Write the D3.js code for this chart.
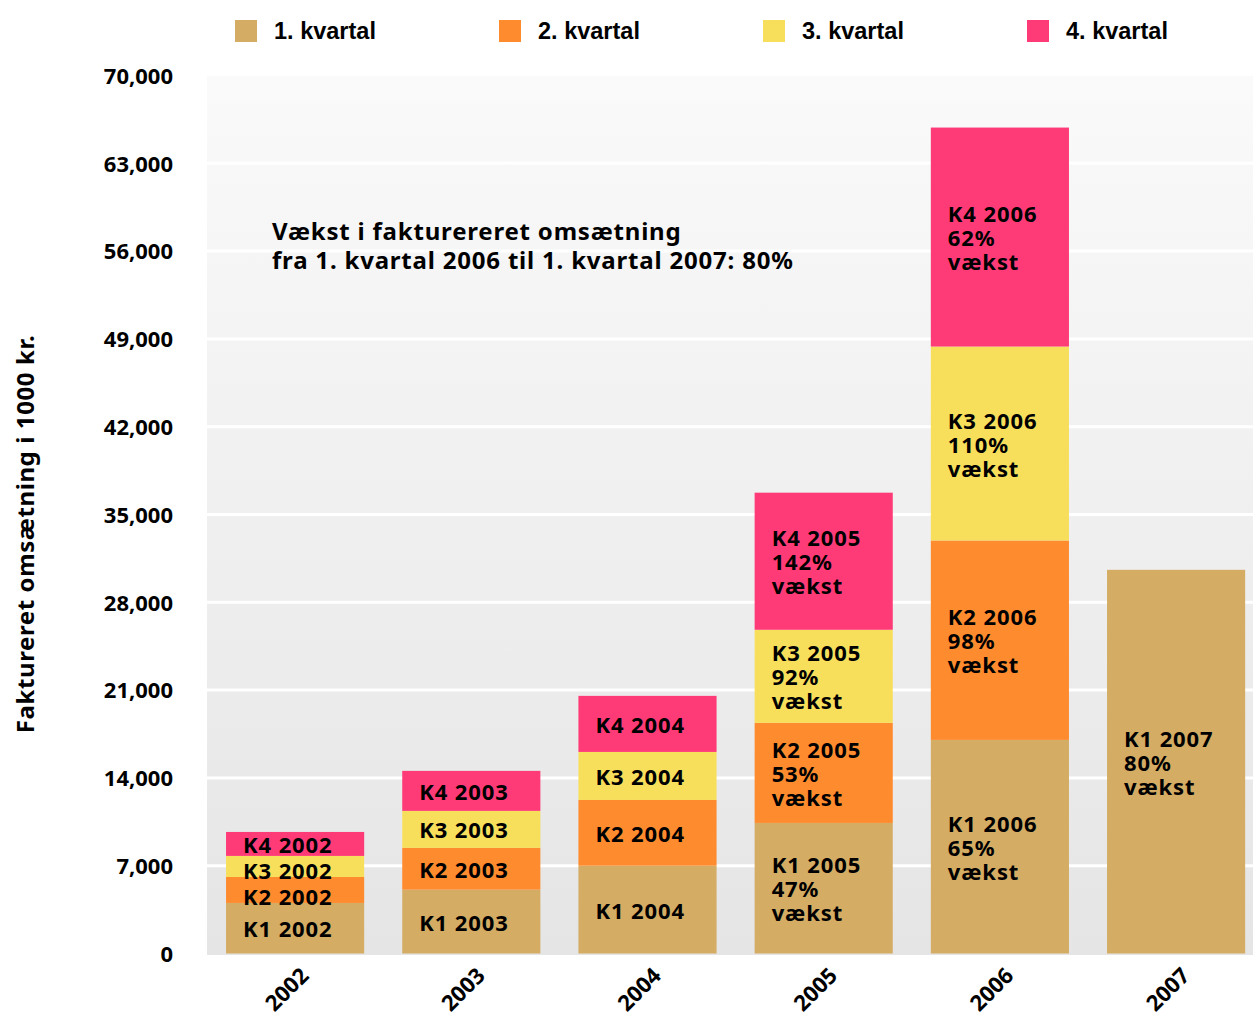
<!DOCTYPE html>
<html>
<head>
<meta charset="utf-8">
<script src="https://cdn.jsdelivr.net/npm/d3@7"></script>
<style>
  body { margin: 0; background: #fff; }
  text { font-family: "Noto Sans", sans-serif; font-weight: bold; fill: #000; }
  .legend text { font-family: "Liberation Sans", Arial, sans-serif; }
</style>
</head>
<body>
<div class="visualisation"></div>
<script>
// Data (1000 kr.)
const years = ["2002", "2003", "2004", "2005", "2006", "2007"];
const quarters = ["1. kvartal", "2. kvartal", "3. kvartal", "4. kvartal"];
const q1 = [4030, 5090, 7000, 10410, 17030, 30590];
const q2 = [2070, 3330, 5240, 7980, 15900, 0];
const q3 = [1680, 2950, 3830, 7420, 15460, 0];
const q4 = [1910, 3190, 4470, 10930, 17460, 0];
const growth = [
    [null, null, null, "47%", "65%", "80%"],
    [null, null, null, "53%", "98%", null],
    [null, null, null, "92%", "110%", null],
    [null, null, null, "142%", "62%", null]
];
const yTicks = d3.range(0, 70001, 7000);
const colors = ["#d4ac64", "#ff8b2f", "#f7df5c", "#ff3b77"];

const width = 1253;
const height = 1017;
const plot = { left: 207, right: 1253, top: 76, bottom: 955 };

const svg = d3.select(".visualisation")
    .append("svg")
    .attr("width", width)
    .attr("height", height);

const x = d3.scaleBand()
    .domain(years)
    .range([207, 1264.2])
    .paddingInner(0.216)
    .paddingOuter(0.108);

const y = d3.scaleLinear()
    .domain([0, 70000])
    .range([953.5, 75.5]);

// plot background with a soft vertical gradient
const grad = svg.append("defs").append("linearGradient")
    .attr("id", "bg")
    .attr("x1", 0).attr("y1", 0).attr("x2", 0).attr("y2", 1);
grad.append("stop").attr("offset", "0%").attr("stop-color", "#fafafa");
grad.append("stop").attr("offset", "100%").attr("stop-color", "#e5e5e5");

svg.append("rect")
    .attr("x", plot.left)
    .attr("y", plot.top)
    .attr("width", plot.right - plot.left)
    .attr("height", plot.bottom - plot.top)
    .attr("fill", "url(#bg)");

// white gridlines
svg.append("g")
    .selectAll("line")
    .data(yTicks.filter(d => d > 0 && d < 70000))
    .enter()
    .append("line")
    .attr("x1", plot.left)
    .attr("x2", plot.right)
    .attr("y1", d => y(d))
    .attr("y2", d => y(d))
    .attr("stroke", "#fff")
    .attr("stroke-width", 3);

// y axis labels
const yAxis = svg.append("g")
    .attr("transform", `translate(173,0)`)
    .call(d3.axisLeft(y).tickValues(yTicks).tickFormat(d3.format(",")).tickSize(0).tickPadding(0));
yAxis.select(".domain").remove();
yAxis.selectAll("text")
    .attr("font-family", null)
    .attr("font-size", null)
    .style("font-size", "22px")
    .attr("dy", "0.35em");

svg.append("text")
    .attr("transform", "translate(34,534) rotate(-90)")
    .attr("text-anchor", "middle")
    .style("font-size", "24px")
    .style("letter-spacing", "0.6px")
    .text("Faktureret omsætning i 1000 kr.");

// stacked bars
const series = [q1, q2, q3, q4];
const rows = years.map((yr, i) => {
    const r = { year: yr };
    series.forEach((s, k) => r["q" + k] = s[i]);
    return r;
});
const stack = d3.stack().keys(["q0", "q1", "q2", "q3"])(rows);

const layers = svg.append("g")
    .selectAll("g")
    .data(stack)
    .enter()
    .append("g")
    .attr("fill", (d, k) => colors[k]);

layers.selectAll("rect")
    .data(d => d.filter(p => p[1] - p[0] > 0))
    .enter()
    .append("rect")
    .attr("x", d => x(d.data.year))
    .attr("width", x.bandwidth())
    .attr("y", d => y(d[1]))
    .attr("height", d => y(d[0]) - y(d[1]));

// in-bar labels, top segment first so crowded labels push downwards
const labels = svg.append("g");
const lh = 24;
years.forEach((yr, i) => {
    let prevBase = -Infinity;
    for (let k = stack.length - 1; k >= 0; k--) {
        const p = stack[k][i];
        if (p[1] - p[0] <= 0) continue;
        const lines = ["K" + (k + 1) + " " + yr];
        if (growth[k][i]) lines.push(growth[k][i], "vækst");
        const cy = (y(p[0]) + y(p[1])) / 2;
        const base = Math.max(cy - (lines.length - 1) * lh / 2 + 9, prevBase + 26);
        prevBase = base + (lines.length - 1) * lh;
        const t = labels.append("text")
            .attr("x", x(yr) + 17)
            .attr("y", base)
            .style("font-size", "22px")
            .style("letter-spacing", "0.9px");
        lines.forEach((l, j) => {
            t.append("tspan")
                .attr("x", x(yr) + 17)
                .attr("dy", j === 0 ? 0 : lh)
                .text(l);
        });
    }
});

// x axis labels
svg.append("g")
    .selectAll("text")
    .data(years)
    .enter()
    .append("text")
    .attr("transform", d => `translate(${x(d) + x.bandwidth() / 2 + 15},977) rotate(-45)`)
    .attr("text-anchor", "end")
    .style("font-size", "22px")
    .text(d => d);

// annotation
const note = svg.append("text")
    .attr("x", 272)
    .attr("y", 240)
    .style("font-size", "24px")
    .style("letter-spacing", "0.8px");
note.append("tspan").attr("x", 272).text("Vækst i fakturereret omsætning");
note.append("tspan").attr("x", 272).attr("dy", 29).text("fra 1. kvartal 2006 til 1. kvartal 2007: 80%");

// legend
const legend = svg.append("g")
    .attr("class", "legend")
    .selectAll("g")
    .data(quarters)
    .enter()
    .append("g")
    .attr("transform", (d, i) => `translate(${235 + i * 264},20)`);
legend.append("rect")
    .attr("width", 22)
    .attr("height", 22)
    .attr("fill", (d, i) => colors[i]);
legend.append("text")
    .attr("x", 39)
    .attr("y", 19)
    .style("font-size", "23.5px")
    .text(d => d);
</script>
</body>
</html>
